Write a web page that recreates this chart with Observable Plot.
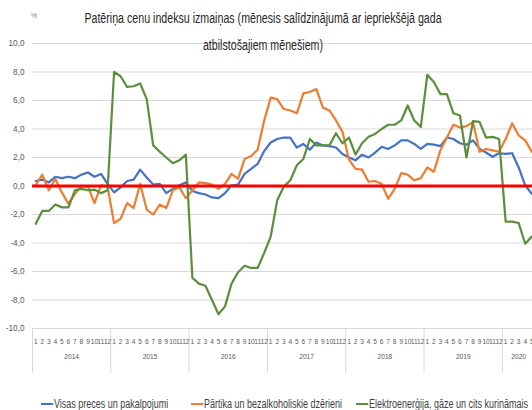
<!DOCTYPE html>
<html>
<head>
<meta charset="utf-8">
<script src="https://cdn.jsdelivr.net/npm/d3@7"></script>
<script src="https://cdn.jsdelivr.net/npm/@observablehq/plot@0.6"></script>
<style>
  html, body { margin: 0; padding: 0; background: #fff; }
  body { width: 532px; height: 410px; overflow: hidden; position: relative;
         font-family: "Liberation Sans", Arial, sans-serif; }
  #chart { position: absolute; left: 0; top: 0; }
  #title { position: absolute; left: 0; top: 5px; width: 526px; text-align: center;
           font-size: 14px; line-height: 27px; color: #262626; }
  #title span { display: inline-block; transform: scaleX(0.76); transform-origin: center; white-space: nowrap; }
  #unit { position: absolute; left: 31px; top: 12px; font-size: 7px; color: #7f7f7f; }
  .leg { position: absolute; top: 397px; font-size: 12.5px; color: #404040; white-space: nowrap;
         transform: scaleX(0.72); transform-origin: left center; }
  .leg i { display: inline-block; width: 17px; height: 2px; vertical-align: middle; margin-right: 1px; position: relative; top: -1px; }
</style>
</head>
<body>
<div id="chart"></div>
<div id="unit">%</div>
<div id="title"><span>Patēriņa cenu indeksu izmaiņas (mēnesis salīdzinājumā ar iepriekšējā gada</span><br><span>atbilstošajiem mēnešiem)</span></div>
<div id="legend"></div>
<script>
// ---- data ----
const years = [2014, 2015, 2016, 2017, 2018, 2019, 2020];
const monthsInYear = [12, 12, 12, 12, 12, 12, 5];
const seriesNames = [
  "Visas preces un pakalpojumi",
  "Pārtika un bezalkoholiskie dzērieni",
  "Elektroenerģija, gāze un cits kurināmais"
];
const seriesColors = ["#4472c4", "#ed7d31", "#5b8e3d"];
const allItems = [
  0.35, 0.45, 0.25, 0.65, 0.55, 0.65, 0.55, 0.8, 0.95, 0.65, 0.85, 0.15,
  -0.45, -0.1, 0.35, 0.45, 1.15, 0.6, 0.1, 0.15, -0.5, -0.2, 0.05, 0.25,
  -0.35, -0.5, -0.6, -0.8, -0.85, -0.5, 0.05, 0.1, 0.85, 1.2, 1.55, 2.45,
  3.05, 3.3, 3.4, 3.4, 2.7, 2.95, 2.55, 3.05, 2.85, 2.8, 2.7, 2.25,
  2.0, 1.8, 2.2, 2.0, 2.35, 2.75, 2.6, 2.85, 3.2, 3.2, 2.95, 2.6,
  2.95, 2.9, 2.8, 3.4, 3.3, 3.0, 2.9, 3.2, 2.6, 2.35, 2.05, 2.3,
  2.25, 2.3, 1.3, 0.05, -0.55
];
const food = [
  0.05, 0.8, -0.3, 0.5, -0.45, -1.25, -0.55, 0.0, -0.05, -1.2, 0.05, -0.05,
  -2.6, -2.3, -1.2, -1.55, 0.15, -1.65, -2.0, -1.3, -1.55, -0.3, -0.1, -0.85,
  -0.3, 0.25, 0.2, 0.1, -0.2, 0.15, 0.85, 0.5, 1.9, 2.1, 2.55, 4.6,
  6.2, 6.1, 5.4, 5.3, 5.1, 6.5, 6.6, 6.8, 5.5, 5.3, 4.6, 3.8,
  1.85, 1.2, 1.15, 0.3, 0.35, 0.15, -0.9, -0.2, 0.9, 0.8, 0.4, 0.55,
  1.3, 1.0, 2.5, 3.4, 4.3, 4.1, 4.2, 4.5, 2.4, 2.6, 2.5, 2.4,
  3.3, 4.4, 3.55, 3.2, 2.4
];
const energy = [
  -2.65, -1.75, -1.75, -1.3, -1.5, -1.5, -0.3, -0.2, -0.3, -0.25, -0.5, -0.3,
  8.0, 7.7, 6.95, 7.0, 7.2, 6.1, 2.85, 2.4, 2.0, 1.6, 1.8, 2.2,
  -6.45, -6.85, -7.0, -8.0, -9.0, -8.45, -6.85, -6.05, -5.6, -5.75, -5.75, -4.7,
  -3.55, -1.0, -0.05, 0.4, 1.45, 1.9, 3.3, 2.85, 2.85, 2.85, 3.7, 3.0,
  3.4, 2.2, 3.0, 3.45, 3.65, 4.0, 4.3, 4.3, 4.6, 5.65, 4.6, 4.15,
  7.8, 7.3, 6.45, 6.45, 5.1, 4.95, 2.0, 4.55, 4.5, 3.4, 3.45, 3.3,
  -2.5, -2.5, -2.6, -4.05, -3.55
];
const yTicks = [-10, -8, -6, -4, -2, 0, 2, 4, 6, 8, 10];

// ---- build tables ----
const months = [];
years.forEach((y, k) => { for (let m = 1; m <= monthsInYear[k]; m++) months.push({i: months.length, year: y, month: m}); });
const seriesValues = [allItems, food, energy];
const rows = [];
seriesValues.forEach((vals, s) => vals.forEach((v, i) => rows.push({i, value: v, series: seriesNames[s]})));

const yearStarts = [];
const yearCenters = [];
let acc = 0;
years.forEach((y, k) => { yearStarts.push(acc - 0.5); yearCenters.push({pos: acc + (monthsInYear[k] - 1) / 2, year: y}); acc += monthsInYear[k]; });
const n = months.length;

const chart = Plot.plot({
  width: 532,
  height: 392,
  marginTop: 43,
  marginBottom: 64,
  marginLeft: 32,
  marginRight: 0,
  style: {fontFamily: '"Liberation Sans", Arial, sans-serif', background: "transparent", overflow: "visible"},
  x: {type: "linear", domain: [-0.5, n - 0.5], range: [32, 534.5]},
  y: {domain: [-10, 10], range: [328, 43]},
  marks: [
    Plot.gridY(yTicks, {stroke: "#d9d9d9", strokeOpacity: 1, strokeWidth: 1.2}),
    Plot.axisY(yTicks, {tickSize: 0, tickPadding: 8, fontSize: 8.2, fill: "#595959", label: null,
      tickFormat: d => d.toFixed(1).replace(".", ",")}),
    Plot.axisX(yearStarts, {tickSize: 45, stroke: "#d9d9d9", strokeOpacity: 1, tickFormat: () => "", label: null}),
    Plot.axisX(months.map(d => d.i), {tickSize: 0, tickPadding: 11, fontSize: 6.6, fill: "#595959", label: null,
      tickFormat: i => String(months[i].month)}),
    Plot.axisX(yearCenters.map(d => d.pos), {tickSize: 0, tickPadding: 26, fontSize: 6.6, fill: "#595959", label: null,
      tickFormat: p => String(yearCenters.find(d => d.pos === p).year)}),
    ...seriesNames.map((name, s) =>
      Plot.lineY(rows.filter(r => r.series === name), {x: "i", y: "value", stroke: seriesColors[s], strokeWidth: 2.2})
    ),
    Plot.ruleY([0], {stroke: "#ff0000", strokeWidth: 3})
  ]
});
document.getElementById("chart").appendChild(chart);

// legend
const legLefts = [41, 191, 356];
const leg = document.getElementById("legend");
seriesNames.forEach((name, s) => {
  const d = document.createElement("div");
  d.className = "leg";
  d.style.left = legLefts[s] + "px";
  d.innerHTML = `<i style="background:${seriesColors[s]}"></i>${name}`;
  leg.appendChild(d);
});
</script>
</body>
</html>
